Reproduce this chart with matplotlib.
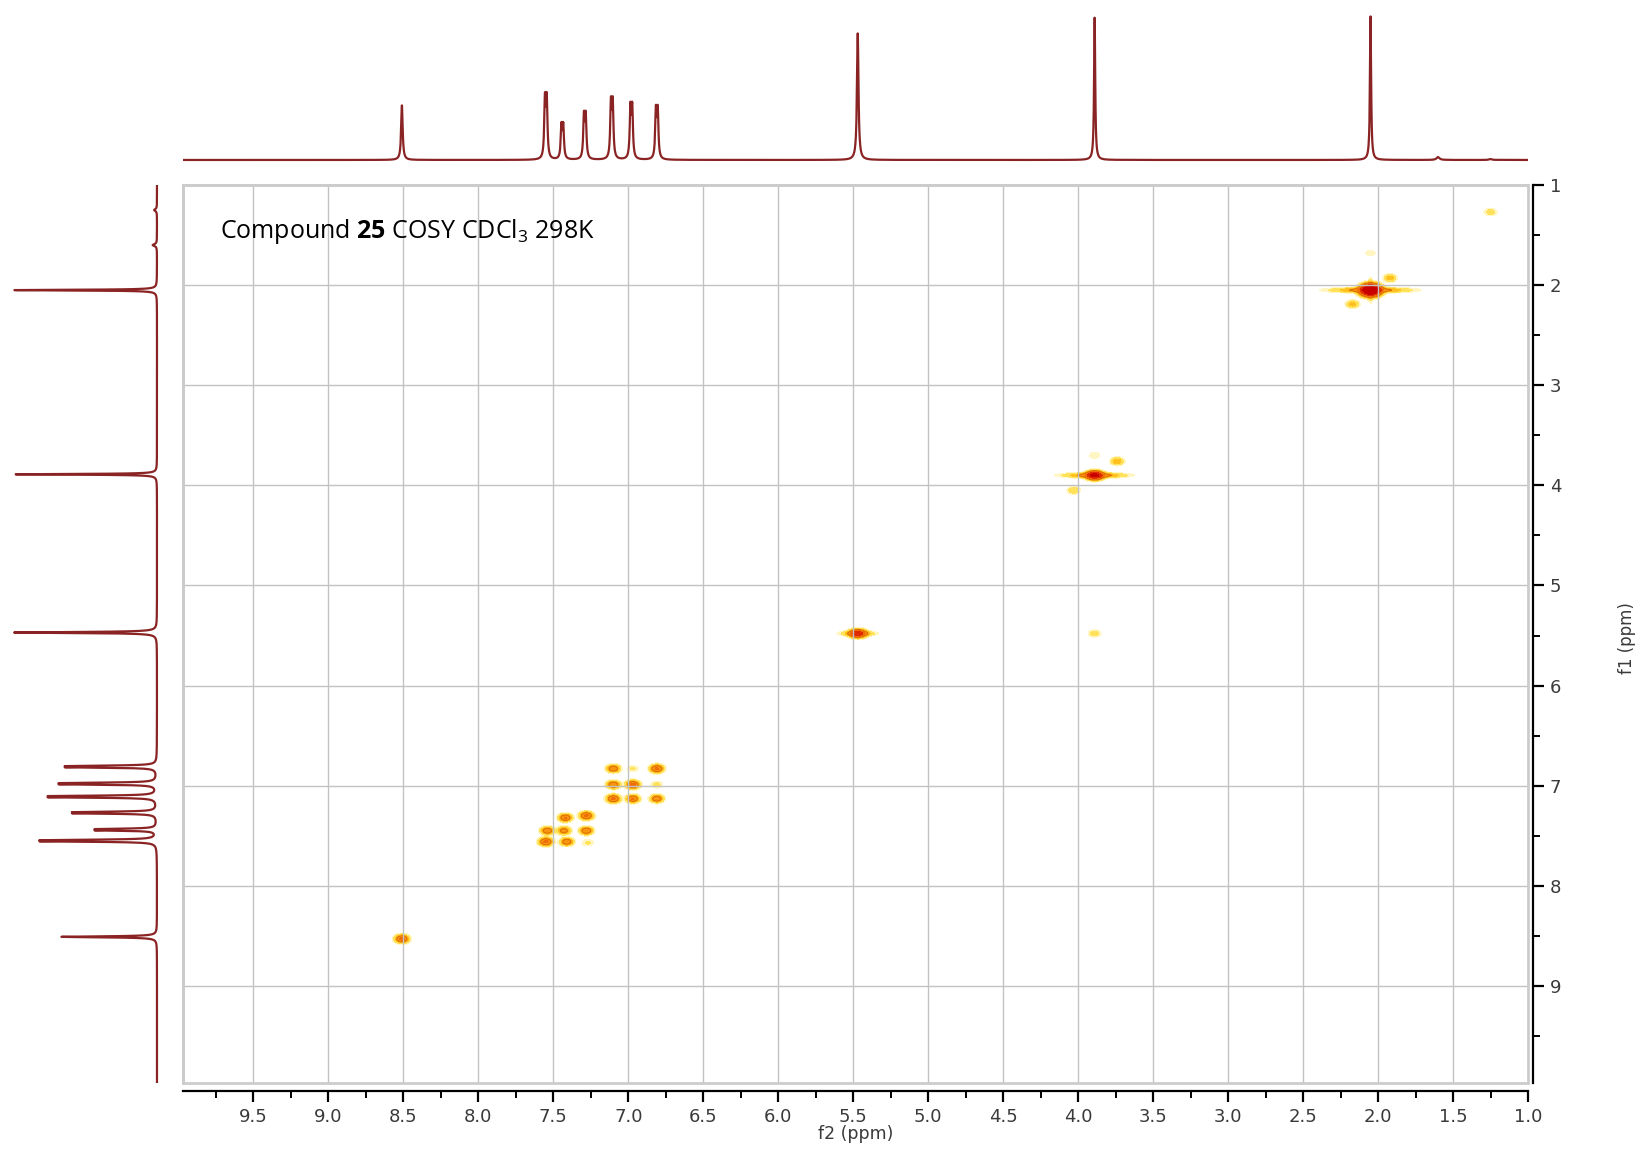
import numpy as np
import matplotlib.pyplot as plt
from matplotlib.patches import Rectangle
from matplotlib.ticker import MultipleLocator, FormatStrFormatter

plt.rcParams['mathtext.fontset'] = 'custom'
plt.rcParams['mathtext.rm'] = 'Open Sans'
plt.rcParams['mathtext.bf'] = 'Open Sans:bold'

# 1H spectrum (top trace): shift in ppm and relative height
h1_shift = [8.51, 7.55, 7.44, 7.29, 7.11, 6.98, 6.81, 5.47, 3.89, 2.05, 1.60, 1.25]
h1_height = [0.38, 0.47, 0.26, 0.34, 0.44, 0.40, 0.38, 0.88, 1.00, 1.00, 0.02, 0.006]
# projection along f1 (left trace)
f1_shift = [8.51, 7.55, 7.44, 7.27, 7.11, 6.98, 6.81, 5.47, 3.89, 2.05, 1.60, 1.25]
f1_height = [0.67, 0.82, 0.43, 0.59, 0.76, 0.68, 0.64, 1.00, 1.00, 1.00, 0.03, 0.02]

# COSY diagonal and cross peaks: f2, f1, intensity
diag_f2 = [8.51, 7.55, 7.43, 7.28, 7.10, 6.97, 6.81, 5.47, 3.89, 2.05, 1.25]
diag_f1 = [8.53, 7.56, 7.45, 7.30, 7.13, 6.99, 6.83, 5.48, 3.90, 2.05, 1.27]
diag_int = [0.9, 0.9, 0.55, 0.85, 0.85, 0.95, 0.85, 1.7, 3.0, 6.0, 0.14]

cross_f2 = [7.42, 7.28, 7.54, 7.41, 7.27, 7.10, 7.10, 6.81, 6.97, 6.97, 6.81,
            4.03, 3.74, 3.89, 3.89, 1.92, 2.17, 2.05]
cross_f1 = [7.32, 7.45, 7.45, 7.56, 7.57, 6.83, 6.99, 7.13, 7.13, 6.83, 6.99,
            4.05, 3.76, 3.70, 5.48, 1.93, 2.19, 1.68]
cross_int = [0.8, 0.75, 0.7, 0.7, 0.1, 0.7, 0.75, 0.7, 0.8, 0.1, 0.12,
             0.2, 0.35, 0.08, 0.15, 0.3, 0.3, 0.07]

# t1 noise ridges on the strong singlets: f2, f1, intensity
ridge_f2 = [3.89, 5.47, 2.05]
ridge_f1 = [3.90, 5.48, 2.05]
ridge_int = [0.6, 0.45, 0.6]


def lorentz(x, pos, h):
    out = np.zeros_like(x)
    for p, a in zip(pos, h):
        if 6.5 < p < 7.7:
            # aromatic signals are doublets
            w, j = 0.0055, 0.012
            lines = [(p - j / 2, a / 1.17), (p + j / 2, a / 1.17)]
        elif p > 5.0:
            w, lines = 0.006, [(p, a)]
        elif p < 1.8:
            w, lines = 0.012, [(p, a)]
        else:
            w, lines = 0.0045, [(p, a)]
        for c, hh in lines:
            out += hh * w ** 2 / ((x - c) ** 2 + w ** 2)
    return out


def spot(X, Y, x0, y0, a, sx, sy):
    return a * np.exp(-0.5 * ((X - x0) / sx) ** 2 - 0.5 * ((Y - y0) / sy) ** 2)


fig = plt.figure(figsize=(16.41, 11.52), dpi=100)
W, H = 1641, 1152
L, R, T, B = 183, 1528, 185, 1083
ax = fig.add_axes([L / W, 1 - B / H, (R - L) / W, (B - T) / H])
ax_top = fig.add_axes([L / W, 1 - 165 / H, (R - L) / W, 153 / H])
ax_left = fig.add_axes([8 / W, 1 - B / H, 152 / W, (B - T) / H])

xlim = (9.97, 1.0)
ylim = (9.97, 1.0)

# 2D map
gx = np.linspace(1.0, 10.0, 1500)
gy = np.linspace(1.0, 10.0, 1000)
X, Y = np.meshgrid(gx, gy)
Z = np.zeros_like(X)
for x0, y0, a in zip(diag_f2, diag_f1, diag_int):
    if a > 4:
        sx, sy = 0.035, 0.03
    elif a > 1.2:
        sx, sy = 0.03, 0.022
    else:
        sx, sy = 0.025, 0.022
    Z += spot(X, Y, x0, y0, a, sx, sy)
for x0, y0, a in zip(cross_f2, cross_f1, cross_int):
    Z += spot(X, Y, x0, y0, a, 0.024, 0.021)
for x0, y0, a, sx in zip(ridge_f2, ridge_f1, ridge_int, [0.11, 0.06, 0.14]):
    Z += spot(X, Y, x0, y0, a, sx, 0.013)
Z += spot(X, Y, 2.05, 2.05, 0.35, 0.008, 0.06)

levels = [0.03, 0.08, 0.2, 0.4, 0.75, 1.3, 2.5, 100]
colors = ['#fff6c4', '#ffe15a', '#ffc020', '#f7960e', '#ef6c08', '#e02a00', '#c80000']
ax.contourf(X, Y, Z, levels=levels, colors=colors, zorder=1)
ax.contour(X, Y, Z, levels=[0.35], colors=['#e07000'], linewidths=0.8, zorder=1)

ax.set_xlim(*xlim)
ax.set_ylim(*ylim)
ax.grid(True, color='#c2c2c2', lw=1.0)
ax.set_axisbelow(False)

for s in ['top', 'left']:
    ax.spines[s].set_color('#cccccc')
    ax.spines[s].set_linewidth(2)
ax.spines['right'].set_position(('outward', 3.6))
ax.spines['bottom'].set_position(('outward', 5.8))
for s in ['right', 'bottom']:
    ax.spines[s].set_color('black')
    ax.spines[s].set_linewidth(1.6)
ax.add_patch(Rectangle((0, 0), 1, 1, transform=ax.transAxes, fill=False,
                       edgecolor='#cccccc', lw=2, clip_on=False, zorder=3))

ax.xaxis.set_major_locator(MultipleLocator(0.5))
ax.xaxis.set_minor_locator(MultipleLocator(0.25))
ax.xaxis.set_major_formatter(FormatStrFormatter('%.1f'))
ax.yaxis.set_major_locator(MultipleLocator(1))
ax.yaxis.set_minor_locator(MultipleLocator(0.5))
ax.yaxis.set_major_formatter(FormatStrFormatter('%d'))
ax.yaxis.tick_right()
ax.tick_params(axis='both', which='major', length=8, width=1.6, color='black',
               labelsize=13, labelcolor='#3a3a3a', pad=4)
ax.tick_params(axis='both', which='minor', length=5, width=1.4, color='black')
ax.tick_params(axis='y', which='both', left=False)
ax.tick_params(axis='x', which='both', top=False)

fig.text(856 / W, 1 - 1134 / H, 'f2 (ppm)', ha='center', va='center',
         fontsize=12.5, color='#3a3a3a')
fig.text(1627 / W, 1 - 638 / H, 'f1 (ppm)', ha='center', va='center',
         rotation=90, fontsize=12, color='#3a3a3a')

ax.text(0.0275, 0.948, r'Compound $\mathbf{25}$ COSY CDCl$_3$ 298K',
        transform=ax.transAxes, fontsize=18, family='Open Sans',
        ha='left', va='center', color='black', zorder=5)

# top 1D trace
line_col = '#8a2424'
xs = np.linspace(1.0, 10.0, 8000)
ax_top.plot(xs, lorentz(xs, h1_shift, h1_height), color=line_col, lw=1.6)
ax_top.set_xlim(*xlim)
ax_top.set_ylim(-0.035, 1.028)
ax_top.axis('off')

# left projection trace
ys = np.linspace(1.0, 10.0, 8000)
ax_left.plot(lorentz(ys, f1_shift, f1_height), ys, color=line_col, lw=1.6)
ax_left.set_ylim(*ylim)
ax_left.set_xlim(1.042, -0.021)
ax_left.axis('off')

fig.savefig('out.png', dpi=100)
